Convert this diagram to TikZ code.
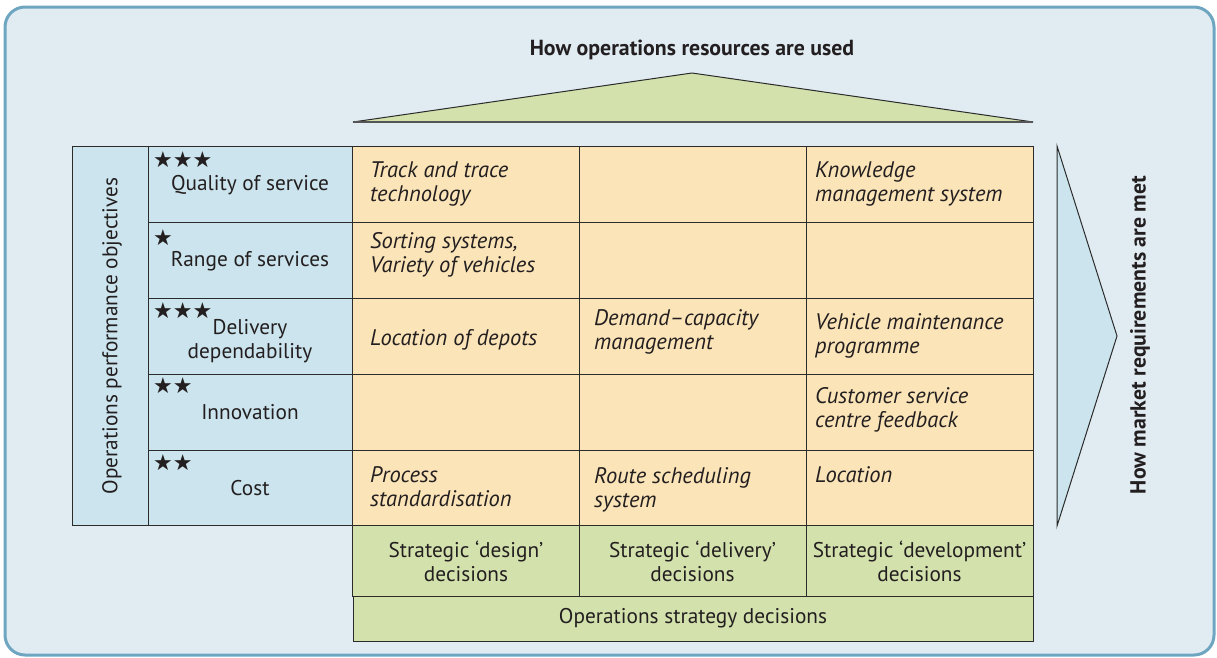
\documentclass[tikz,border=0pt]{standalone}
\usepackage{fontspec}
\setmainfont{PT Sans}
\newfontfamily\starfont{DejaVu Sans}
\usetikzlibrary{positioning}

\definecolor{bgc}{HTML}{E1ECF2}
\definecolor{framec}{HTML}{6EA6C2}
\definecolor{bluec}{HTML}{CBE4ED}
\definecolor{orangec}{HTML}{FBE4B8}
\definecolor{greenc}{HTML}{D3E1AD}
\definecolor{linec}{HTML}{2B2B2B}
\definecolor{textc}{HTML}{231F20}

\begin{document}
\begin{tikzpicture}[x=1pt,y=-1pt,
      font=\fontsize{21.3}{24}\selectfont,text=textc,
      cell/.style={draw=linec,line width=1pt,inner sep=0pt,minimum width=227pt,minimum height=76pt},
      obj/.style={cell,fill=bluec,minimum width=204pt},
      res/.style={cell,fill=orangec},
      dec/.style={cell,fill=greenc,minimum height=71pt},
      item/.style={anchor=west,align=left,inner sep=0pt,font=\fontsize{22.5}{24}\selectfont\itshape},
      lbl/.style={align=center,inner sep=0pt},
      head/.style={inner sep=0pt,font=\fontsize{21.8}{24}\selectfont\bfseries},
      stars/.style={anchor=west,inner sep=0pt,font=\starfont\fontsize{22}{22}\selectfont}]
    \useasboundingbox (0,0) rectangle (1217,657);
    % --- frame ---
    \draw[rounded corners=20pt,line width=3pt,draw=framec,fill=bgc] (5,7) rectangle (1214,655);
    % --- top triangle ---
    \node[head] (title) at (692,50) {How operations resources are used};
    \draw[draw=linec,line width=1pt,fill=greenc] (353,122) -- (692,73) -- (1033,122) -- cycle;
    \draw[draw=linec!80,line width=2pt] (353,122) -- (1033,122);
    % --- right arrow ---
    \draw[draw=linec,line width=1pt,fill=bluec] (1057,146) -- (1117,336) -- (1057,526) -- cycle;
    \node[head,rotate=90] (mkt) at (1140,335) {How market requirements are met};
    % --- performance objectives ---
    \node[cell,fill=bluec,minimum width=76pt,minimum height=379pt] (perf) at (110,335.5) {};
    \node[rotate=90,inner sep=0pt] (perft) at (112,336) {Operations performance objectives};
    \node[obj] (o1) at (250,184) {};
    \node[obj] (o2) at (250,260) {};
    \node[obj] (o3) at (250,336) {};
    \node[obj] (o4) at (250,412) {};
    \node[obj,minimum height=75pt] (o5) at (250,487.5) {};
    \node[stars] (s1) at (153,160) {★★★};
    \node[stars] (s2) at (153,238) {★};
    \node[stars] (s3) at (153,311) {★★★};
    \node[stars] (s4) at (153,386) {★★};
    \node[stars] (s5) at (153,463) {★★};
    \node[lbl] (l1) at (250,185) {Quality of service};
    \node[lbl] (l2) at (250,261) {Range of services};
    \node[lbl] (l3) at (250,341) {Delivery\\dependability};
    \node[lbl] (l4) at (250,412) {Innovation};
    \node[lbl] (l5) at (250,488) {Cost};
    % --- resource cells ---
    \foreach \r/\y in {1/184,2/260,3/336,4/412}{
      \node[res] (r\r a) at (466,\y) {};
      \node[res] (r\r b) at (692.5,\y) {};
      \node[res] (r\r c) at (919.5,\y) {};
    }
    \node[res,minimum height=75pt] (r5a) at (466,487.5) {};
    \node[res,minimum height=75pt] (r5b) at (692.5,487.5) {};
    \node[res,minimum height=75pt] (r5c) at (919.5,487.5) {};
    \node[item] (t1a) at (370,184) {Track and trace\\technology};
    \node[item] (t1c) at (815,184) {Knowledge\\management system};
    \node[item] (t2a) at (370,255) {Sorting systems,\\Variety of vehicles};
    \node[item] (t3a) at (370,340) {Location of depots};
    \node[item] (t3b) at (594,332) {Demand--capacity\\management};
    \node[item] (t3c) at (815,336) {Vehicle maintenance\\programme};
    \node[item] (t4c) at (815,410) {Customer service\\centre feedback};
    \node[item] (t5a) at (370,487) {Process\\standardisation};
    \node[item] (t5b) at (594,490) {Route scheduling\\system};
    \node[item] (t5c) at (815,475) {Location};
    % --- decisions ---
    \node[dec] (d1) at (466,560.5) {};
    \node[dec] (d2) at (692.5,560.5) {};
    \node[dec] (d3) at (919.5,560.5) {};
    \node[lbl] (dt1) at (466,561) {Strategic ‘design’\\decisions};
    \node[lbl] (dt2) at (692.5,561) {Strategic ‘delivery’\\decisions};
    \node[lbl] (dt3) at (919.5,561) {Strategic ‘development’\\decisions};
    \node[cell,fill=greenc,minimum width=680pt,minimum height=45pt] (ops) at (693,618.5) {Operations strategy decisions};
  \end{tikzpicture}
\end{document}
